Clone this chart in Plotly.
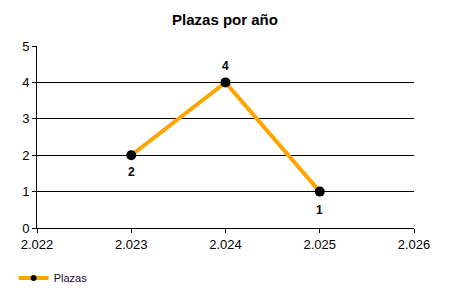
import plotly.graph_objects as go

years = [2023, 2024, 2025]
plazas = [2, 4, 1]
label_shift = [-17, 16, -18]
x_ticks = [2022, 2023, 2024, 2025, 2026]
x_tick_labels = ["2.022", "2.023", "2.024", "2.025", "2.026"]
y_ticks = [0, 1, 2, 3, 4, 5]

fig = go.Figure()
fig.add_trace(go.Scatter(
    x=years, y=plazas, mode="lines+markers", name="Plazas", showlegend=False,
    line=dict(color="#FFA500", width=4),
    marker=dict(color="black", size=10),
    cliponaxis=False,
))
fig.add_trace(go.Scatter(
    x=[None], y=[None], mode="lines+markers", name="Plazas",
    line=dict(color="#FFA500", width=4),
    marker=dict(color="black", size=6),
))
for xv, yv, sh in zip(years, plazas, label_shift):
    fig.add_annotation(x=xv, y=yv, text=f"<b>{yv}</b>", showarrow=False, yshift=sh,
                       font=dict(size=12, color="black"))
fig.update_layout(
    width=450, height=300,
    margin=dict(l=37, r=36, t=46, b=10, autoexpand=False),
    paper_bgcolor="white", plot_bgcolor="white",
    font=dict(family="Liberation Sans, Arial", size=12, color="black"),
    title=dict(text="<b>Plazas por año</b>", x=0.5, xanchor="center", y=0.933, yanchor="middle",
               font=dict(size=15, color="black")),
    showlegend=True,
    legend=dict(x=-0.062, y=0.049, xanchor="left", yanchor="middle", orientation="h",
                font=dict(size=11, color="#1a0a2a"), bgcolor="rgba(0,0,0,0)"),
    xaxis=dict(range=[2022, 2026], tickvals=x_ticks, ticktext=x_tick_labels, automargin=False,
               showgrid=False, zeroline=False, showline=True, linecolor="black", linewidth=1,
               ticks="outside", ticklen=4, tickcolor="black", tickfont=dict(size=13),
               anchor="y"),
    yaxis=dict(range=[0, 5], tickvals=y_ticks, showgrid=True, gridcolor="black", gridwidth=1,
               zeroline=False, showline=True, linecolor="black", linewidth=1, automargin=False,
               ticks="outside", ticklen=4, tickcolor="black", tickfont=dict(size=13),
               domain=[0.254, 1]),
)
fig.write_html("out.html")
